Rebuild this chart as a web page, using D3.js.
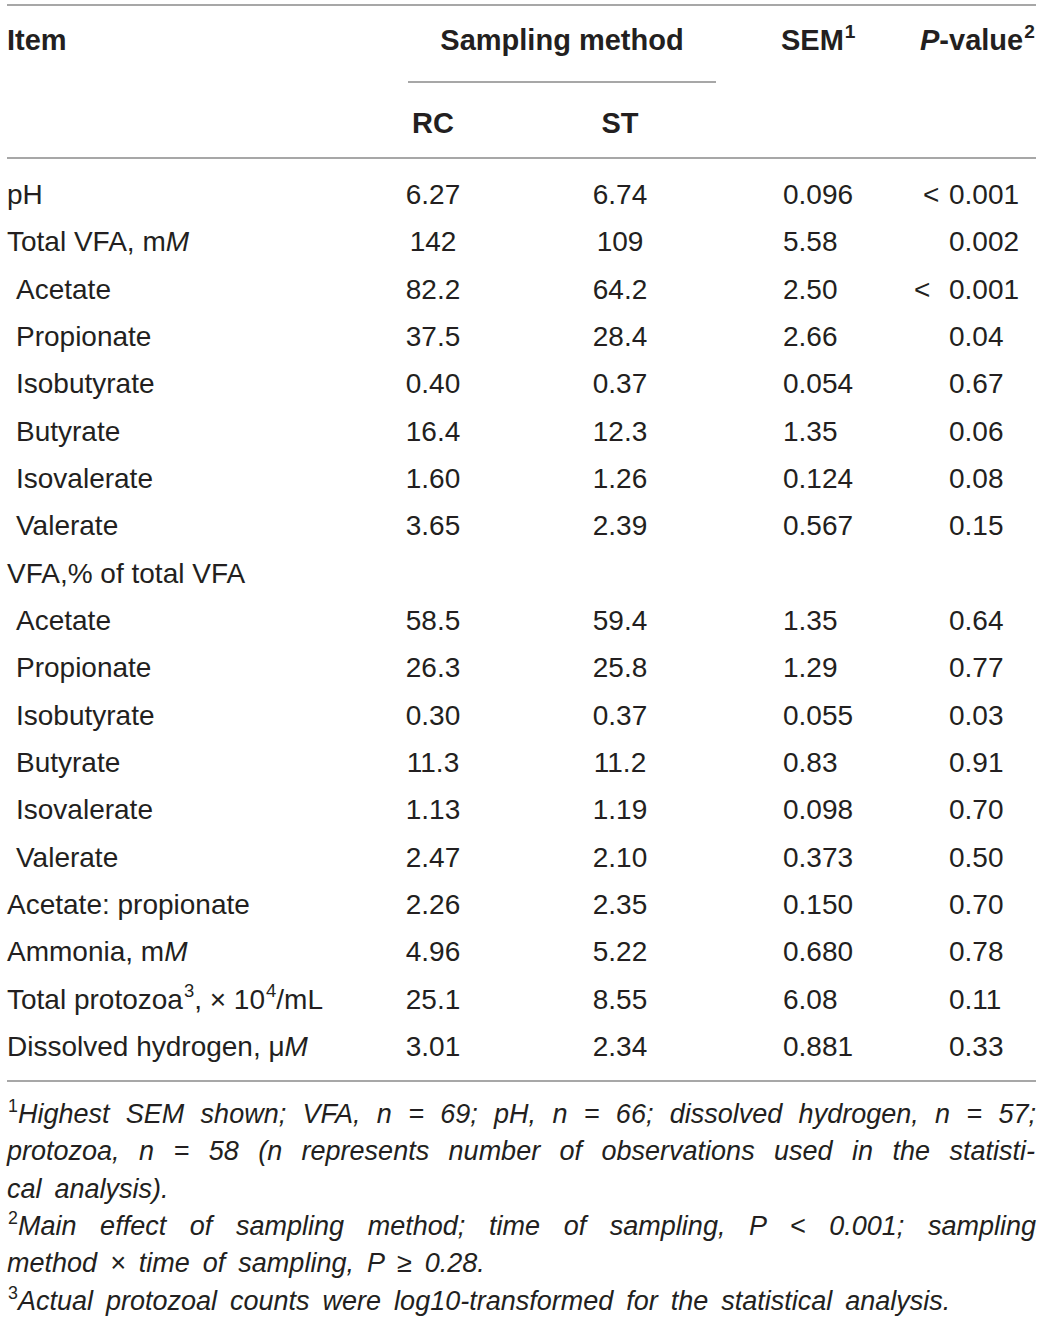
<!DOCTYPE html>
<html>
<head>
<meta charset="utf-8">
<title>Rumen fermentation by sampling method</title>
<script src="https://cdn.jsdelivr.net/npm/d3@7/dist/d3.min.js"></script>
<style>
  body { margin: 0; background: #fff; }
  svg { display: block; }
</style>
</head>
<body>
<svg width="1042" height="1322" id="mainsvg"></svg>
<script>
// row labels: <i>..</i> italic, <sup>..</sup> superscript, a leading space marks a sub-item
const items = ['pH', 'Total VFA, m<i>M</i>', ' Acetate', ' Propionate', ' Isobutyrate', ' Butyrate',
  ' Isovalerate', ' Valerate', 'VFA,% of total VFA', ' Acetate', ' Propionate', ' Isobutyrate',
  ' Butyrate', ' Isovalerate', ' Valerate', 'Acetate: propionate', 'Ammonia, m<i>M</i>',
  'Total protozoa<sup>3</sup>, × 10<sup>4</sup>/mL', 'Dissolved hydrogen, μ<i>M</i>']
const rc = ['6.27', '142', '82.2', '37.5', '0.40', '16.4', '1.60', '3.65', '',
  '58.5', '26.3', '0.30', '11.3', '1.13', '2.47', '2.26', '4.96', '25.1', '3.01']
const st = ['6.74', '109', '64.2', '28.4', '0.37', '12.3', '1.26', '2.39', '',
  '59.4', '25.8', '0.37', '11.2', '1.19', '2.10', '2.35', '5.22', '8.55', '2.34']
const sem = ['0.096', '5.58', '2.50', '2.66', '0.054', '1.35', '0.124', '0.567', '',
  '1.35', '1.29', '0.055', '0.83', '0.098', '0.373', '0.150', '0.680', '6.08', '0.881']
const pval = ['< 0.001', '0.002', '< 0.001', '0.04', '0.67', '0.06', '0.08', '0.15', '',
  '0.64', '0.77', '0.03', '0.91', '0.70', '0.50', '0.70', '0.78', '0.11', '0.33']

const groupHeader = 'Sampling method'
const methods = ['RC', 'ST']
const headers = ['Item', 'SEM<sup>1</sup>', '<b><i>P</i></b>-value<sup>2</sup>']

const footnotes = [
  '<sup>1</sup>Highest SEM shown; VFA, n = 69; pH, n = 66; dissolved hydrogen, n = 57;',
  'protozoa, n = 58 (n represents number of observations used in the statisti-',
  'cal analysis).',
  '<sup>2</sup>Main effect of sampling method; time of sampling, P < 0.001; sampling',
  'method × time of sampling, P ≥ 0.28.',
  '<sup>3</sup>Actual protozoal counts were log10-transformed for the statistical analysis.'
]
const justified = [true, true, false, true, false, false]

const svg = d3.select('svg')
const font = "'Liberation Sans', Arial, sans-serif"
const ink = '#231f20'
const bodySize = 28
const headSize = 29
const noteSize = 27
const left = 7, right = 1036

// column anchors
const xCol = {rc: 433, st: 620, sem: 783, p: 949}

// puts marked-up text into a <text> node as tspans
function rich(sel, str, size) {
  const parts = str.split(/(<i>.*?<\/i>|<sup>.*?<\/sup>|<b><i>.*?<\/i><\/b>)/).filter(s => s !== '')
  let shift = 0
  parts.forEach(p => {
    let t
    if (p.startsWith('<sup>')) {
      sel.append('tspan').attr('font-size', size * 0.66).attr('font-style', 'normal')
        .attr('dy', -size * 0.4).attr('dx', 1).text(p.slice(5, -6))
      shift = size * 0.4
      return
    }
    if (p.startsWith('<b><i>')) t = sel.append('tspan').attr('font-style', 'italic').text(p.slice(6, -8))
    else if (p.startsWith('<i>')) t = sel.append('tspan').attr('font-style', 'italic').text(p.slice(3, -4))
    else t = sel.append('tspan').text(p)
    if (shift) { t.attr('dy', shift); shift = 0 }
  })
  return sel
}

const g = svg.append('g').attr('font-family', font).attr('fill', ink)

// rules
const rules = [
  {x1: left, x2: right, y: 5},
  {x1: 408, x2: 716, y: 82},
  {x1: left, x2: right, y: 158},
  {x1: left, x2: right, y: 1081}
]
g.selectAll('line.rule')
  .data(rules)
  .join('line')
  .attr('class', 'rule')
  .attr('x1', d => d.x1).attr('x2', d => d.x2)
  .attr('y1', d => d.y).attr('y2', d => d.y)
  .attr('stroke', '#8a8a8a')
  .attr('stroke-width', 1.6)

// header
const head = g.append('g').attr('font-weight', 'bold').attr('font-size', headSize)
rich(head.append('text').attr('x', left).attr('y', 50), headers[0], headSize)
head.append('text').attr('x', 562).attr('y', 50).attr('text-anchor', 'middle').text(groupHeader)
rich(head.append('text').attr('x', 781).attr('y', 50), headers[1], headSize)
rich(head.append('text').attr('x', 920).attr('y', 50), headers[2], headSize)
head.selectAll('text.method')
  .data(methods)
  .join('text')
  .attr('class', 'method')
  .attr('x', (d, i) => i === 0 ? xCol.rc : xCol.st)
  .attr('y', 133)
  .attr('text-anchor', 'middle')
  .text(d => d)

// body rows
const yScale = d3.scalePoint()
  .domain(d3.range(items.length))
  .range([204, 1056])

const body = g.append('g').attr('font-size', bodySize)

body.selectAll('text.item')
  .data(items)
  .join('text')
  .attr('class', 'item')
  .attr('x', d => d.startsWith(' ') ? left + 9 : left)
  .attr('y', (d, i) => yScale(i))
  .each(function (d) { rich(d3.select(this), d.trim(), bodySize) })

body.selectAll('text.rc')
  .data(rc)
  .join('text')
  .attr('class', 'rc')
  .attr('x', xCol.rc)
  .attr('y', (d, i) => yScale(i))
  .attr('text-anchor', 'middle')
  .text(d => d)

body.selectAll('text.st')
  .data(st)
  .join('text')
  .attr('class', 'st')
  .attr('x', xCol.st)
  .attr('y', (d, i) => yScale(i))
  .attr('text-anchor', 'middle')
  .text(d => d)

body.selectAll('text.sem')
  .data(sem)
  .join('text')
  .attr('class', 'sem')
  .attr('x', xCol.sem)
  .attr('y', (d, i) => yScale(i))
  .text(d => d)

// p-values line up on the leading zero; a "<" sign hangs out to the left
body.selectAll('text.pval')
  .data(pval)
  .join('text')
  .attr('class', 'pval')
  .attr('y', (d, i) => yScale(i))
  .each(function (d, i) {
    const t = d3.select(this)
    if (!d.startsWith('<')) { t.attr('x', xCol.p).text(d); return }
    const [sign, num] = d.split(' ')
    t.append('tspan').attr('x', xCol.p - (i === 2 ? 35 : 26)).text(sign + ' ')
    t.append('tspan').attr('x', xCol.p).text(num)
  })

// footnotes
const notes = g.append('g').attr('font-size', noteSize).attr('font-style', 'italic')
const yNote = d3.scalePoint()
  .domain(d3.range(footnotes.length))
  .range([1123, 1309.5])

notes.selectAll('text.note')
  .data(footnotes)
  .join('text')
  .attr('class', 'note')
  .attr('x', left)
  .attr('y', (d, i) => yNote(i))
  .each(function (d, i) {
    const t = d3.select(this)
    rich(t, d, noteSize)
    if (!justified[i]) { t.attr('word-spacing', 5.5); return }
    const natural = this.getComputedTextLength()
    const gaps = d.replace(/<[^>]+>/g, '').split(' ').length - 1
    t.attr('word-spacing', (right - 1 - left - natural) / gaps)
  })
</script>
</body>
</html>
